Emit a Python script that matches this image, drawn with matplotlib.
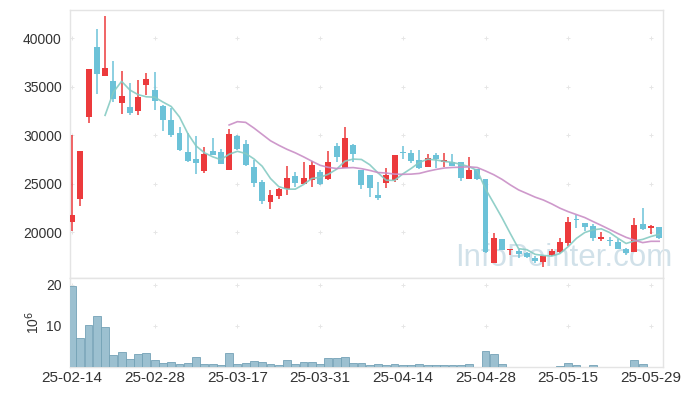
import matplotlib
matplotlib.use("Agg")
import matplotlib.pyplot as plt
import numpy as np
import pandas as pd

plt.rcParams["font.family"] = ["Liberation Sans", "DejaVu Sans"]

# trading days 2025-02-14 .. 2025-05-30
dates = (["25-02-%02d" % d for d in [14, 17, 18, 19, 20, 21, 24, 25, 26, 27, 28]]
         + ["25-03-%02d" % d for d in [4, 5, 6, 7, 10, 11, 12, 13, 14, 17, 18, 19, 20, 21,
                                       24, 25, 26, 27, 28, 31]]
         + ["25-04-%02d" % d for d in [1, 2, 3, 4, 7, 8, 9, 10, 11, 14, 15, 16, 17, 18,
                                       21, 22, 23, 24, 25, 28, 29, 30]]
         + ["25-05-%02d" % d for d in [2, 7, 8, 9, 12, 13, 14, 15, 16, 19, 20, 21, 22, 23,
                                       26, 27, 28, 29, 30]])

opens = [21000, 23400, 31900, 39100, 36100, 35600, 33300, 32900, 32500, 35200,
         34600, 33000, 31500, 30200, 28200, 27500, 26300, 28400, 28200, 26400,
         29900, 29100, 26700, 25200, 23100, 23700, 24400, 25800, 25000, 25400,
         26200, 25500, 28900, 26600, 29000, 26400, 25900, 23800, 25100, 25400,
         28200, 28100, 27400, 26700, 27900, 27250, 27200, 27200, 25500, 26500,
         25500, 16800, 19300, 18100, 18000, 17800, 17300, 16900, 17600, 17900,
         18900, 21300, 20900, 20600, 19300, 19200, 19000, 18300, 17900, 20800,
         20400, 20500]
highs = [30000, 28350, 36800, 40900, 42300, 37600, 36600, 35400, 35700, 36400,
         36500, 33100, 32800, 30800, 30200, 29900, 28800, 29700, 28600, 30600,
         30000, 29500, 27400, 25400, 24300, 24500, 26800, 26200, 27200, 27300,
         26400, 28400, 29200, 30800, 29100, 26400, 25900, 25200, 26600, 27900,
         28900, 28500, 28500, 28000, 28100, 28100, 28000, 27200, 27700, 26500,
         25500, 19900, 19300, 18300, 18300, 17900, 17500, 17500, 18200, 19400,
         21600, 21800, 20900, 20800, 20000, 19500, 19300, 18400, 21400, 22500,
         20700, 20500]
lows = [20100, 22700, 31200, 34200, 36100, 33400, 32200, 32100, 32100, 34100,
        32600, 30400, 29800, 28400, 27200, 26000, 26100, 27900, 27000, 26400,
        28500, 26800, 24600, 22900, 22400, 23400, 23800, 24600, 24900, 24600,
        24800, 25400, 27200, 26600, 27200, 24400, 23600, 23300, 24500, 25200,
        27500, 27100, 26500, 26700, 26600, 26700, 26800, 25300, 25500, 25400,
        17800, 16800, 18100, 17600, 17300, 17300, 16800, 16400, 17500, 17800,
        18600, 20400, 20100, 19100, 19100, 18600, 18200, 17600, 17900, 20200,
        19800, 19300]
closes = [21800, 28350, 36800, 36300, 36900, 33700, 34000, 32300, 33900, 35800,
          33500, 31500, 30000, 28500, 27300, 27100, 28000, 27900, 27000, 30100,
          28600, 26900, 25100, 23200, 23800, 24400, 25600, 25100, 25600, 26900,
          25000, 27200, 27700, 29700, 28000, 24800, 24500, 23500, 25900, 27900,
          28150, 27300, 26600, 27600, 27500, 27400, 26800, 25600, 26400, 25500,
          17900, 19400, 18100, 18300, 17700, 17400, 17000, 17500, 18000, 19000,
          21000, 21250, 20500, 19400, 19500, 19100, 18300, 17800, 20700, 20300,
          20600, 19400]
# volume in millions of shares
volumes = [19.8, 7.0, 10.2, 12.4, 9.7, 2.85, 3.6, 1.9, 3.1, 3.35,
           1.6, 0.9, 1.15, 0.65, 0.9, 2.4, 0.65, 0.65, 0.4, 3.3,
           0.65, 0.9, 1.4, 1.15, 0.65, 0.4, 1.6, 0.65, 1.15, 1.15,
           0.65, 2.1, 2.1, 2.4, 0.9, 0.9, 0.4, 0.65, 0.4, 0.65,
           0.4, 0.4, 0.65, 0.4, 0.4, 0.4, 0.4, 0.4, 0.65, 0.1,
           3.8, 3.1, 0.65, 0.1, 0.1, 0.1, 0.1, 0.1, 0.1, 0.3,
           0.9, 0.4, 0.1, 0.4, 0.1, 0.1, 0.1, 0.1, 1.6, 0.65, 0.1, 0.1]

UP = "#ec3a3c"
DOWN = "#6cc2d8"
GRID = "#e6e6e6"
SPINE = "#e4e4e4"

df = pd.DataFrame({"open": opens, "high": highs, "low": lows, "close": closes, "vol": volumes})
x = np.arange(len(df))
ma5 = df["close"].rolling(5).mean()
ma20 = df["close"].rolling(20).mean()

fig = plt.figure(figsize=(6.91, 3.96), dpi=100)
ax = fig.add_axes([70 / 691, 1 - 278 / 396, 593 / 691, 268 / 396])
axv = fig.add_axes([70 / 691, 1 - 367 / 396, 593 / 691, 89 / 396])

xlim = (-0.24, 71.46)
xticks = list(range(0, len(df), 10))

# candles
up = df["close"] >= df["open"]
colors = np.where(up, UP, DOWN)
body_lo = np.minimum(df["open"], df["close"])
body_h = np.maximum((df["close"] - df["open"]).abs(), 60)
ax.vlines(x, df["low"], df["high"], colors=colors, linewidth=1.1, zorder=3)
ax.bar(x, body_h, bottom=body_lo, width=0.72, color=colors, zorder=4, linewidth=0)

ax.plot(x, ma5, color="#86cbc3", linewidth=1.2, alpha=0.9, zorder=5)
ax.plot(x, ma20, color="#c98ec6", linewidth=1.2, alpha=0.9, zorder=5)

ax.set_xlim(*xlim)
ax.set_ylim(15260, 42890)
yticks = [20000, 25000, 30000, 35000, 40000]
ax.set_yticks(yticks)
ax.set_xticks(xticks)
ax.set_xticklabels([])
gx, gy = np.meshgrid(xticks, yticks)
ax.scatter(gx.ravel(), gy.ravel(), marker="+", s=10, color=GRID, linewidth=0.7, zorder=1)

ax.text(455 / 691, 1 - 266 / 396, "InfoPointer.com", transform=fig.transFigure,
        fontsize=22.5, color="#c9dce6", alpha=0.85, zorder=2, clip_on=False)

# volume
axv.bar(x, df["vol"], width=0.95, color="#9cc0d0", edgecolor="#74a2b6", linewidth=0.6, zorder=3)
axv.set_xlim(*xlim)
axv.set_ylim(0, 21.7)
axv.set_yticks([10, 20])
axv.set_xticks(xticks)
axv.set_xticklabels([dates[i] for i in xticks], fontsize=11)
vx, vy = np.meshgrid(xticks, [10, 20])
axv.scatter(vx.ravel(), vy.ravel(), marker="+", s=10, color=GRID, linewidth=0.7, zorder=1)
axv.set_ylabel("10$^6$", fontsize=10, color="#333333", labelpad=3)

for a in (ax, axv):
    for s in a.spines.values():
        s.set_color(SPINE)
        s.set_linewidth(1.0)
    a.tick_params(length=0, colors="#333333")
    a.tick_params(axis="y", pad=6, labelsize=10)
    a.tick_params(axis="x", pad=3)

fig.savefig("out.png", dpi=100)
